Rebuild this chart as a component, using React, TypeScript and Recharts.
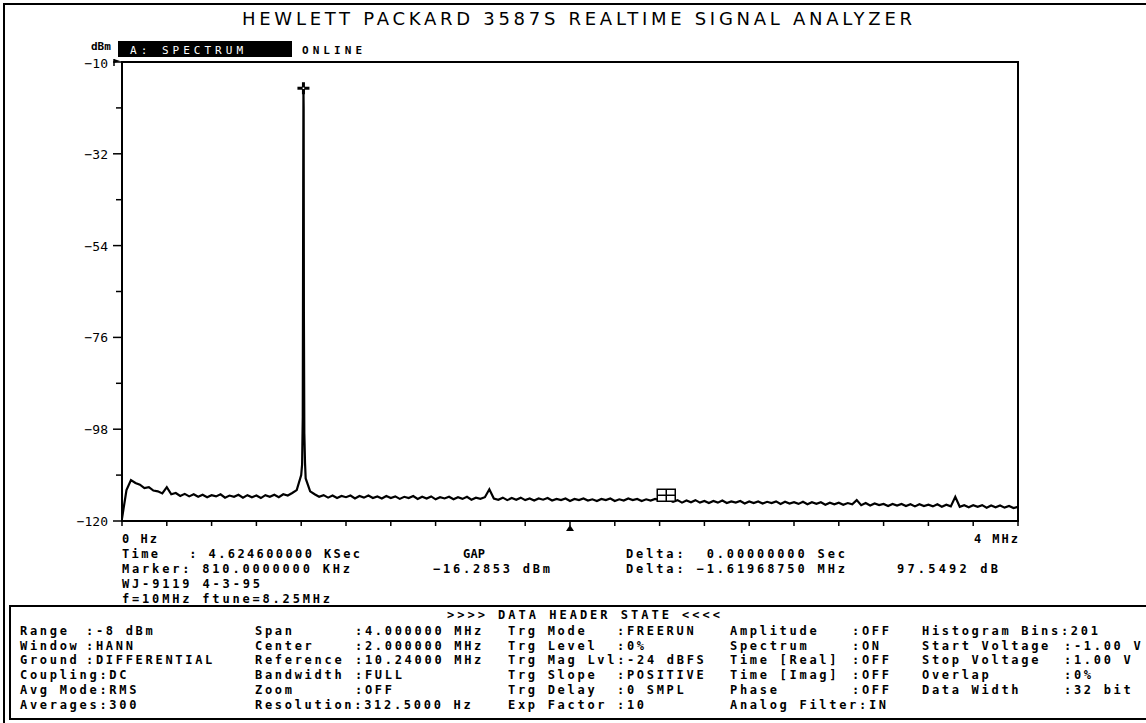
import React from "react";
import { ComposedChart, Line, XAxis, YAxis, ReferenceArea, ReferenceDot } from "recharts";

const FREQ_STEP_KHZ = 20;
const traceDbm = [
  -119.4, -112.6, -110.2, -110.9, -111.3, -112.1, -111.9, -112.7, -112.9, -113.4,
  -111.9, -113.6, -113.3, -114.0, -113.5, -114.1, -113.6, -114.2, -113.7, -114.3,
  -113.8, -114.1, -113.6, -114.4, -113.9, -114.2, -113.7, -114.4, -113.8, -114.3,
  -113.9, -114.5, -113.8, -114.2, -113.7, -114.3, -113.6, -113.9, -113.3, -112.6,
  -109.0, -109.8, -112.9, -113.6, -114.2, -113.8, -114.4, -113.9, -114.5, -114.0,
  -114.3, -113.9, -114.6, -114.0, -114.4, -113.9, -114.5, -114.1, -114.6, -114.0,
  -114.5, -114.1, -114.7, -114.2, -114.5, -114.0, -114.7, -114.2, -114.6, -114.1,
  -114.8, -114.3, -114.6, -114.2, -114.8, -114.3, -114.7, -114.2, -114.9, -114.4,
  -114.7, -114.3, -112.4, -114.6, -114.9, -114.4, -115.0, -114.5, -114.9, -114.4,
  -115.0, -114.6, -115.1, -114.6, -114.9, -114.5, -115.1, -114.7, -115.0, -114.6,
  -115.2, -114.7, -115.0, -114.6, -115.1, -114.8, -115.2, -114.7, -115.0, -114.6,
  -115.2, -114.8, -115.1, -114.6, -115.0, -114.7, -115.2, -114.8, -115.1, -114.7,
  -115.0, -114.6, -114.9, -115.4, -115.0, -115.6, -115.1, -115.5, -115.0, -115.6,
  -115.2, -115.7, -115.2, -115.6, -115.1, -115.7, -115.3, -115.6, -115.2, -115.8,
  -115.3, -115.7, -115.3, -115.8, -115.4, -115.7, -115.3, -115.9, -115.4, -115.8,
  -115.5, -115.9, -115.4, -116.0, -115.5, -115.9, -115.5, -116.1, -115.6, -116.0,
  -115.6, -116.1, -115.7, -116.0, -115.0, -116.2, -115.7, -116.3, -115.8, -116.2,
  -115.9, -116.4, -115.9, -116.3, -115.9, -116.4, -116.0, -116.5, -116.0, -116.4,
  -116.1, -116.5, -116.0, -116.6, -116.1, -116.5, -114.2, -116.6, -116.2, -116.7,
  -116.2, -116.6, -116.2, -116.8, -116.3, -116.7, -116.3, -116.8, -116.4, -116.9,
  -116.6,
];

// extra points around the carrier
const peakFreqKHz = [804, 807, 809, 810, 811, 812, 814, 817];
const peakDbm = [-106.5, -95, -40, -16.3, -21, -70, -99, -106];

const markerKHz = 810;
const markerDbm = -16.2853;
const deltaKHz = 2429.69;
const deltaDbm = -113.83;
const centerKHz = 2000;

const yTicks = [-120, -109, -98, -87, -76, -65, -54, -43, -32, -21, -10];
const yLabels = [-120, -98, -76, -54, -32, -10];
const xTicks = [
  0, 200, 400, 600, 800, 1000, 1200, 1400, 1600, 1800, 2000,
  2200, 2400, 2600, 2800, 3000, 3200, 3400, 3600, 3800, 4000,
];

const infoLines = [
  { x: 122, y: 558, w: 238, t: "Time   : 4.624600000 KSec" },
  { x: 463, y: 558, w: 22, t: "GAP" },
  { x: 626, y: 558, w: 219, t: "Delta:  0.00000000 Sec" },
  { x: 122, y: 573, w: 228, t: "Marker: 810.0000000 KHz" },
  { x: 433, y: 573, w: 117, t: "\u221216.2853 dBm" },
  { x: 626, y: 573, w: 219, t: "Delta: \u22121.61968750 MHz" },
  { x: 897, y: 573, w: 101, t: "97.5492 dB" },
  { x: 122, y: 588, w: 138, t: "WJ-9119 4-3-95" },
  { x: 122, y: 603, w: 208, t: "f=10MHz ftune=8.25MHz" },
];

const rowY = [635, 649.7, 664.4, 679.1, 693.8, 708.5];
const tableCols = [
  { x: 20, items: ["Range", "Window", "Ground", "Coupling:DC", "Avg Mode:RMS", "Averages:300"] },
  { x: 86, items: [":-8 dBm", ":HANN", ":DIFFERENTIAL", "", "", ""] },
  { x: 255, items: ["Span", "Center", "Reference", "Bandwidth", "Zoom", "Resolution:312.5000 Hz"] },
  { x: 355, items: [":4.000000 MHz", ":2.000000 MHz", ":10.24000 MHz", ":FULL", ":OFF", ""] },
  { x: 508, items: ["Trg Mode", "Trg Level", "Trg Mag Lvl:-24 dBFS", "Trg Slope", "Trg Delay", "Exp Factor"] },
  { x: 617, items: [":FREERUN", ":0%", "", ":POSITIVE", ":0 SMPL", ":10"] },
  { x: 730, items: ["Amplitude", "Spectrum", "Time [Real]", "Time [Imag]", "Phase", "Analog Filter:IN"] },
  { x: 852, items: [":OFF", ":ON", ":OFF", ":OFF", ":OFF", ""] },
  { x: 922, items: ["Histogram Bins:201", "Start Voltage", "Stop Voltage", "Overlap", "Data Width", ""] },
  { x: 1064, items: ["", ":-1.00 V", ":1.00 V", ":0%", ":32 bit", ""] },
];

const mono = "'DejaVu Sans Mono', monospace";

const trace = traceDbm
  .map((v, i) => ({ f: i * FREQ_STEP_KHZ, dbm: v }))
  .concat(peakFreqKHz.map((f, i) => ({ f, dbm: peakDbm[i] })))
  .sort((a, b) => a.f - b.f);

const YTick = ({ x, y, payload }: any) => {
  const v = payload.value;
  const major = yLabels.includes(v);
  return (
    <g>
      <line x1={x - (major ? 9 : 6)} x2={x} y1={y} y2={y} stroke="#000" strokeWidth={1.5} />
      {major && (
        <text x={x - 14} y={y + (v === -10 ? 6 : 5)} textAnchor="end" fontFamily={mono} fontSize={13} fill="#000">
          {String(v).replace("-", "\u2212")}
        </text>
      )}
      {v === -10 && (
        <g>
          <line x1={x - 8} x2={x - 8} y1={y - 3} y2={y + 4} stroke="#000" strokeWidth={1.5} />
          <polygon points={`${x - 8},${y - 3} ${x - 2},${y - 1} ${x - 8},${y + 1}`} fill="#000" />
        </g>
      )}
    </g>
  );
};

const XTick = ({ x, y, payload }: any) => {
  const v = payload.value;
  return (
    <g>
      <line x1={x} x2={x} y1={y} y2={y + 5} stroke="#000" strokeWidth={1.5} />
      {v === 0 && (
        <text x={x} y={y + 22} fontFamily={mono} fontSize={12} fontWeight="bold" letterSpacing={2} style={{ whiteSpace: "pre" }}>
          0 Hz
        </text>
      )}
      {v === 4000 && (
        <text x={x + 2} y={y + 22} textAnchor="end" fontFamily={mono} fontSize={12} fontWeight="bold" letterSpacing={2} style={{ whiteSpace: "pre" }}>
          4 MHz
        </text>
      )}
    </g>
  );
};

const Cross = ({ cx, cy }: any) => (
  <g>
    <rect x={cx - 6} y={cy - 1.5} width={12} height={3} fill="#000" />
    <rect x={cx - 1.5} y={cy - 6} width={3} height={12} fill="#000" />
    <rect x={cx - 0.8} y={cy - 0.8} width={1.6} height={1.6} fill="#fff" />
  </g>
);

const DeltaBox = ({ cx, cy }: any) => (
  <g>
    <rect x={cx - 9} y={cy - 6} width={18} height={12} fill="#fff" stroke="#000" strokeWidth={1.5} />
    <line x1={cx - 9} x2={cx + 9} y1={cy} y2={cy} stroke="#000" strokeWidth={1.5} />
    <line x1={cx} x2={cx} y1={cy - 6} y2={cy + 6} stroke="#000" strokeWidth={1.5} />
  </g>
);

const CenterMark = ({ cx, cy }: any) => (
  <polygon points={`${cx - 4},${cy + 10} ${cx + 4},${cy + 10} ${cx},${cy + 4}`} fill="#000" />
);

export default function App() {
  return (
    <div style={{ position: "absolute", left: 0, top: 0, width: 1146, height: 723, background: "#fff" }}>
      <svg width={1146} height={723} style={{ position: "absolute", left: 0, top: 0 }}>
        <path d="M4,723 V4 H1146" fill="none" stroke="#000" strokeWidth={2} />
        <text x={242} y={25} textLength={670} lengthAdjust="spacing" fontFamily="'DejaVu Sans', sans-serif" fontSize={18} fill="#000">
          HEWLETT PACKARD 3587S REALTIME SIGNAL ANALYZER
        </text>
        <text x={91} y={50} fontFamily={mono} fontSize={11} fontWeight="bold">dBm</text>
        <rect x={118} y={41} width={174} height={16} fill="#000" />
        <text x={130} y={54} textLength={113} lengthAdjust="spacing" fill="#fff" fontFamily={mono} fontSize={11}>
          A: SPECTRUM
        </text>
        <text x={302} y={54} textLength={60} lengthAdjust="spacing" fontFamily={mono} fontSize={11} fontWeight="bold">
          ONLINE
        </text>
        {infoLines.map((l, i) => (
          <text key={i} x={l.x} y={l.y} textLength={l.w} lengthAdjust="spacing" fontFamily={mono} fontSize={12} fontWeight="bold" style={{ whiteSpace: "pre" }}>
            {l.t}
          </text>
        ))}
        <rect x={10} y={606} width={1140} height={113} fill="none" stroke="#000" strokeWidth={2} />
        <text x={447} y={619} textLength={273} lengthAdjust="spacing" fontFamily={mono} fontSize={12} fontWeight="bold" style={{ whiteSpace: "pre" }}>
          {">>>> DATA HEADER STATE <<<<"}
        </text>
        {tableCols.map((c, ci) =>
          c.items.map((t, ri) =>
            t ? (
              <text key={`${ci}-${ri}`} x={c.x} y={rowY[ri]} fontFamily={mono} fontSize={12} fontWeight="bold" letterSpacing={2.7} style={{ whiteSpace: "pre" }}>
                {t}
              </text>
            ) : null
          )
        )}
      </svg>
      <div style={{ position: "absolute", left: 0, top: 0 }}>
        <ComposedChart width={1146} height={723} data={trace} margin={{ top: 62, right: 128, bottom: 172, left: 62 }}>
          <XAxis
            dataKey="f"
            type="number"
            domain={[0, 4000]}
            ticks={xTicks}
            interval={0}
            tickSize={0}
            tickMargin={0}
            tickLine={false}
            axisLine={false}
            height={30}
            tick={<XTick />}
          />
          <YAxis
            type="number"
            domain={[-120, -10]}
            ticks={yTicks}
            interval={0}
            width={60}
            tickSize={0}
            tickMargin={0}
            tickLine={false}
            axisLine={false}
            tick={<YTick />}
          />
          <ReferenceArea x1={0} x2={4000} y1={-120} y2={-10} fill="none" stroke="#000" strokeWidth={2} />
          <Line
            type="linear"
            dataKey="dbm"
            stroke="#000"
            strokeWidth={2.2}
            dot={false}
            isAnimationActive={false}
          />
          <ReferenceDot x={markerKHz} y={markerDbm} shape={<Cross />} />
          <ReferenceDot x={deltaKHz} y={deltaDbm} shape={<DeltaBox />} />
          <ReferenceDot x={centerKHz} y={-120} shape={<CenterMark />} />
        </ComposedChart>
      </div>
    </div>
  );
}
